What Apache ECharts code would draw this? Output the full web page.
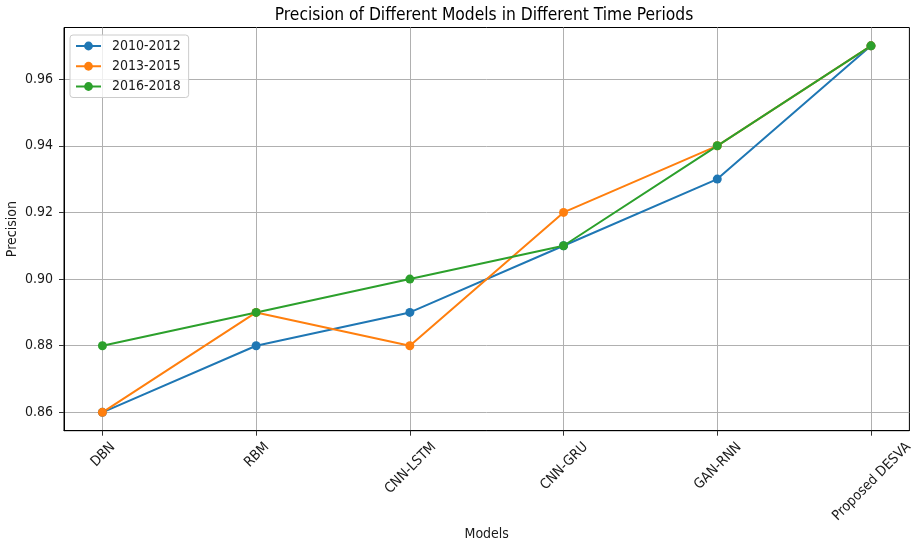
<!DOCTYPE html>
<html>
<head>
<meta charset="utf-8">
<script src="https://cdn.jsdelivr.net/npm/echarts@6/dist/echarts.min.js"></script>
<style>html,body{margin:0;padding:0;background:#fff;}#chart{width:915px;height:546px;}</style>
</head>
<body>
<div id="chart"></div>
<script>
const categories = ['DBN', 'RBM', 'CNN-LSTM', 'CNN-GRU', 'GAN-RNN', 'Proposed DESVA'];
const seriesNames = ['2010-2012', '2013-2015', '2016-2018'];
const values2010 = [0.86, 0.88, 0.89, 0.91, 0.93, 0.97];
const values2013 = [0.86, 0.89, 0.88, 0.92, 0.94, 0.97];
const values2016 = [0.88, 0.89, 0.90, 0.91, 0.94, 0.97];
const yTicks = [0.86, 0.88, 0.90, 0.92, 0.94, 0.96];
const colors = ['#1f77b4', '#ff7f0e', '#2ca02c'];

const FONT = '"DejaVu Sans Condensed", "Liberation Sans Narrow", "DejaVu Sans"';
const FS = 14;
const ctx = document.createElement('canvas').getContext('2d');
ctx.font = FS + 'px ' + FONT;
const h = FS;
const rich = {};
categories.forEach((c, i) => {
  const w = ctx.measureText(c).width;
  const T = Math.max(0, w / 4 + h / 2 + 1 - h);
  const R = w / 2;
  rich['c' + i] = { fontFamily: FONT, fontSize: FS, color: '#1a1a1a', padding: [T, R, 0, 0] };
});

const chart = echarts.init(document.getElementById('chart'), null, { renderer: 'canvas' });
const allValues = [values2010, values2013, values2016];
const option = {
  animation: false,
  backgroundColor: '#fff',
  title: {
    text: 'Precision of Different Models in Different Time Periods',
    left: 484, top: 7, padding: 0, textAlign: 'center',
    textStyle: { fontFamily: FONT, fontSize: 17.3, fontWeight: 'normal', color: '#000' }
  },
  legend: {
    orient: 'vertical', left: 70, top: 35,
    padding: [4, 8, 4, 5],
    itemWidth: 25, itemHeight: 11, itemGap: 6.25,
    borderColor: '#cccccc', borderWidth: 1, borderRadius: 3,
    backgroundColor: 'rgba(255,255,255,0.8)',
    textStyle: { fontFamily: FONT, fontSize: FS, color: '#1a1a1a', padding: [0, 0, 0, 6] },
    data: seriesNames
  },
  grid: {
    left: 64, right: 5.6, top: 27.5, bottom: 115.3,
    show: true, borderColor: '#000', borderWidth: 1, containLabel: false,
    outerBoundsMode: 'none'
  },
  xAxis: {
    type: 'value', min: -0.25, max: 5.25,
    name: 'Models', nameLocation: 'middle', nameGap: 97, nameMoveOverlap: false,
    nameTextStyle: { fontFamily: FONT, fontSize: FS, color: '#1a1a1a' },
    axisLine: { show: true, onZero: false, lineStyle: { color: '#000', width: 1 } },
    axisTick: { show: true, length: 5, lineStyle: { color: '#333' }, customValues: categories.map((c, i) => i) },
    axisLabel: {
      customValues: categories.map((c, i) => i),
      rotate: 45, align: 'center', verticalAlign: 'top', margin: 13.5,
      formatter: v => '{c' + Math.round(v) + '|' + categories[Math.round(v)] + '}',
      rich: rich
    },
    splitLine: { show: true, lineStyle: { color: '#b0b0b0', width: 1 } }
  },
  yAxis: {
    type: 'value', min: 0.8545, max: 0.9755,
    name: 'Precision', nameLocation: 'middle', nameGap: 45, nameMoveOverlap: false,
    nameTextStyle: { fontFamily: FONT, fontSize: FS, color: '#1a1a1a' },
    axisLine: { show: true, onZero: false, lineStyle: { color: '#000', width: 1 } },
    axisTick: { show: true, length: 5, lineStyle: { color: '#333' }, customValues: yTicks },
    axisLabel: {
      customValues: yTicks, margin: 11,
      fontFamily: FONT, fontSize: FS, color: '#1a1a1a',
      formatter: v => v.toFixed(2)
    },
    splitLine: { show: true, lineStyle: { color: '#b0b0b0', width: 1 } }
  },
  series: seriesNames.map((name, k) => ({
    name: name, type: 'line',
    data: allValues[k].map((v, i) => [i, v]),
    symbol: 'circle', symbolSize: 9,
    itemStyle: { color: colors[k] },
    lineStyle: { color: colors[k], width: 2 },
    emphasis: { disabled: true }
  }))
};
chart.setOption(option);
</script>
</body>
</html>
